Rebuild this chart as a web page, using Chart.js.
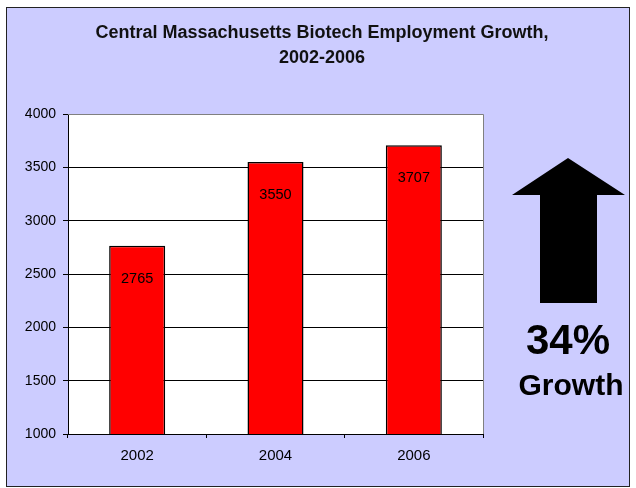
<!DOCTYPE html>
<html>
<head>
<meta charset="utf-8">
<script src="https://cdn.jsdelivr.net/npm/chart.js@4"></script>
<style>
  html, body { margin: 0; padding: 0; background: #ffffff; }
  #wrap { width: 636px; height: 488px; position: relative; }
</style>
</head>
<body>
<div id="wrap"><canvas id="myChart" width="636" height="488"></canvas></div>
<script>
const years = ['2002', '2004', '2006'];
const employment = [2765, 3550, 3707];
const yMin = 1000;
const yMax = 4000;
const yStep = 500;
const titleLines = ['Central Massachusetts Biotech Employment Growth,', '2002-2006'];
const growthText = ['34%', 'Growth'];

const FONT = '"Liberation Sans", Arial, sans-serif';

// frame, title and the growth arrow
const decor = {
    id: 'decor',
    beforeDraw(chart) {
        const ctx = chart.ctx;
        ctx.save();
        ctx.fillStyle = '#ffffff';
        ctx.fillRect(0, 0, chart.width, chart.height);
        ctx.fillStyle = '#ccccff';
        ctx.fillRect(6.5, 7.5, 623, 479);
        ctx.strokeStyle = '#222222';
        ctx.lineWidth = 1;
        ctx.strokeRect(6.5, 7.5, 623, 479);

        const a = chart.chartArea;
        ctx.fillStyle = '#ffffff';
        ctx.fillRect(a.left, a.top, a.right - a.left, a.bottom - a.top);
        ctx.restore();
    },
    afterDraw(chart) {
        const ctx = chart.ctx;
        const a = chart.chartArea;
        ctx.save();
        ctx.strokeStyle = '#808080';
        ctx.lineWidth = 1;
        ctx.beginPath();
        ctx.moveTo(Math.round(a.left), Math.round(a.top) + 0.5);
        ctx.lineTo(Math.round(a.right) + 0.5, Math.round(a.top) + 0.5);
        ctx.lineTo(Math.round(a.right) + 0.5, Math.round(a.bottom));
        ctx.stroke();

        ctx.fillStyle = '#111111';
        ctx.textAlign = 'center';
        ctx.textBaseline = 'middle';
        ctx.font = 'bold 18px ' + FONT;
        ctx.fillText(titleLines[0], 322, 33);
        ctx.fillText(titleLines[1], 322, 58);

        // arrow
        ctx.fillStyle = '#000000';
        ctx.beginPath();
        ctx.moveTo(568, 158);
        ctx.lineTo(625, 195);
        ctx.lineTo(597, 195);
        ctx.lineTo(597, 303);
        ctx.lineTo(540, 303);
        ctx.lineTo(540, 195);
        ctx.lineTo(512, 195);
        ctx.closePath();
        ctx.fill();

        ctx.fillStyle = '#000000';
        ctx.font = 'bold 42px ' + FONT;
        ctx.fillText(growthText[0], 568, 342);
        ctx.font = 'bold 30px ' + FONT;
        ctx.fillText(growthText[1], 571, 387);
        ctx.restore();
    }
};

// value labels inside the top of each bar
const barLabels = {
    id: 'barLabels',
    afterDatasetsDraw(chart) {
        const ctx = chart.ctx;
        const meta = chart.getDatasetMeta(0);
        ctx.save();
        ctx.fillStyle = '#000000';
        ctx.font = '14.5px ' + FONT;
        ctx.textAlign = 'center';
        ctx.textBaseline = 'middle';
        meta.data.forEach((bar, i) => {
            ctx.fillText(String(employment[i]), bar.x, bar.y + 33);
        });
        ctx.restore();
    }
};

new Chart(document.getElementById('myChart'), {
    type: 'bar',
    data: {
        labels: years,
        datasets: [{
            data: employment,
            backgroundColor: '#ff0000',
            borderColor: '#000000',
            borderWidth: 1.5,
            borderSkipped: 'bottom',
            categoryPercentage: 1,
            barPercentage: 0.405
        }]
    },
    options: {
        responsive: false,
        animation: false,
        layout: { padding: { top: 114, right: 153, left: 0, bottom: 0 } },
        plugins: {
            legend: { display: false },
            title: { display: false },
            tooltip: { enabled: false }
        },
        scales: {
            x: {
                afterFit(scale) { scale.height = 54; },
                border: { display: true, color: '#000000' },
                grid: { offset: true, drawOnChartArea: false, tickLength: 4, color: '#000000' },
                ticks: { color: '#000000', font: { family: FONT, size: 15 }, padding: 9 }
            },
            y: {
                min: yMin,
                max: yMax,
                afterFit(scale) { scale.width = 68; },
                border: { display: true, color: '#000000' },
                grid: { color: '#000000', tickLength: 5 },
                ticks: {
                    stepSize: yStep,
                    color: '#000000',
                    font: { family: FONT, size: 14 },
                    padding: 7,
                    callback: (v) => String(v)
                }
            }
        }
    },
    plugins: [decor, barLabels]
});
</script>
</body>
</html>
